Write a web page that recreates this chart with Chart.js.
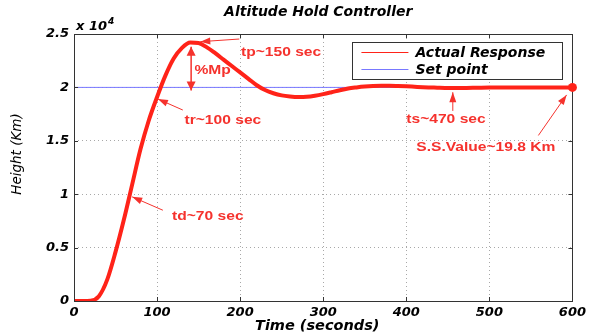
<!DOCTYPE html>
<html>
<head>
<meta charset="utf-8">
<script src="https://cdn.jsdelivr.net/npm/chart.js@4/dist/chart.umd.min.js"></script>
<style>
html,body{margin:0;padding:0;background:#fff;}
canvas{display:block;}
</style>
</head>
<body>
<canvas id="c" width="590" height="335"></canvas>
<script>
// ---- data ----
const chartTitle = 'Altitude Hold Controller';
const xTitle = 'Time (seconds)';
const yTitle = 'Height (Km)';
const seriesNames = ['Actual Response', 'Set point'];
const times = [0,10,20,30,40,50,60,70,80,90,100,110,120,130,140,150,160,170,180,190,200,
  210,220,230,240,250,260,270,280,290,300,310,320,330,340,350,360,370,380,390,400,
  410,420,430,440,450,460,470,480,490,500,510,520,530,540,550,560,570,580,590,600];
const heights = [0,0,30,450,2000,4600,7600,10900,14200,16900,19100,21100,22700,23700,24200,24150,23750,23200,22600,22000,21400,
  20800,20200,19750,19450,19250,19150,19100,19120,19220,19370,19550,19740,19900,20000,20080,20130,20150,20150,20130,20100,
  20060,20020,19990,19960,19950,19940,19950,19960,19975,19985,19990,19995,20000,20000,20000,20000,20000,20000,20000,20000];
const setPointTimes = [0, 600];
const setPointValues = [20000, 20000];
const endPoint = [600, 20000];
const xTicks = [0,100,200,300,400,500,600];
const yTicks = [0,5000,10000,15000,20000,25000];
const yTickLabels = ['0','0.5','1','1.5','2','2.5'];
const yExponent = '4';
// annotations: text anchor [t, value], arrow from/to in data units, heads count
const annTexts = ['tp~150 sec','%Mp','tr~100 sec','td~70 sec','ts~470 sec','S.S.Value~19.8 Km'];
const annAnchors = [[201,23300],[145,21630],[133,16950],[118,7950],[400,17000],[412,14400]];
const annFrom = [[199,24530],[141,23800],[131,17880],[107,8500],[456,17800],[559,15500]];
const annTo = [[152,24280],[141,19700],[101,18910],[70,9750],[456,19550],[593,19300]];
const annHeads = [1,2,1,1,1,1];

const RED = 'rgb(255,35,25)';
const ANN_RED = 'rgb(245,50,45)';
const BLUE = 'rgb(120,120,255)';

function arrowHead(ctx, x1, y1, x2, y2, len, hw) {
  const a = Math.atan2(y2 - y1, x2 - x1);
  ctx.beginPath();
  ctx.moveTo(x2, y2);
  ctx.lineTo(x2 - len*Math.cos(a) + hw*Math.sin(a), y2 - len*Math.sin(a) - hw*Math.cos(a));
  ctx.lineTo(x2 - len*Math.cos(a) - hw*Math.sin(a), y2 - len*Math.sin(a) + hw*Math.cos(a));
  ctx.closePath();
  ctx.fill();
}

const decor = {
  id: 'decor',
  afterDatasetsDraw(chart) {
    const ctx = chart.ctx, xs = chart.scales.x, ys = chart.scales.y, ca = chart.chartArea;
    ctx.save();
    // frame
    ctx.strokeStyle = '#333';
    ctx.lineWidth = 1;
    ctx.strokeRect(Math.round(ca.left)+0.5, Math.round(ca.top)+0.5, Math.round(ca.right-ca.left), Math.round(ca.bottom-ca.top));
    // inner ticks
    ctx.beginPath();
    xTicks.forEach(v => {
      const px = Math.round(xs.getPixelForValue(v)) + 0.5;
      ctx.moveTo(px, ca.bottom); ctx.lineTo(px, ca.bottom - 4);
      ctx.moveTo(px, ca.top); ctx.lineTo(px, ca.top + 4);
    });
    yTicks.forEach(v => {
      const py = Math.round(ys.getPixelForValue(v)) + 0.5;
      ctx.moveTo(ca.left, py); ctx.lineTo(ca.left + 4, py);
      ctx.moveTo(ca.right, py); ctx.lineTo(ca.right - 4, py);
    });
    ctx.stroke();

    // end point marker
    ctx.fillStyle = RED;
    ctx.beginPath();
    ctx.arc(xs.getPixelForValue(endPoint[0]), ys.getPixelForValue(endPoint[1]), 4.5, 0, Math.PI*2);
    ctx.fill();

    // annotations
    ctx.strokeStyle = ANN_RED;
    ctx.fillStyle = ANN_RED;
    annTexts.forEach((t, i) => {
      const x1 = xs.getPixelForValue(annFrom[i][0]), y1 = ys.getPixelForValue(annFrom[i][1]);
      const x2 = xs.getPixelForValue(annTo[i][0]), y2 = ys.getPixelForValue(annTo[i][1]);
      ctx.lineWidth = annHeads[i] === 2 ? 1.5 : 1;
      ctx.beginPath(); ctx.moveTo(x1, y1); ctx.lineTo(x2, y2); ctx.stroke();
      if (annHeads[i] === 2) {
        arrowHead(ctx, x1, y1, x2, y2, 9, 4.5);
        arrowHead(ctx, x2, y2, x1, y1, 9, 4.5);
      } else {
        arrowHead(ctx, x1, y1, x2, y2, 10, 3.5);
      }
      const tx = xs.getPixelForValue(annAnchors[i][0]), ty = ys.getPixelForValue(annAnchors[i][1]);
      ctx.save();
      ctx.translate(tx, ty);
      ctx.scale(1.2, 1);
      ctx.font = 'bold 13px "Liberation Sans"';
      ctx.textBaseline = 'middle';
      ctx.textAlign = 'left';
      ctx.fillText(t, 0, 0);
      ctx.restore();
    });

    // legend box
    const lx = ca.right - 220, ly = ca.top + 8, lw = 210, lh = 37;
    ctx.fillStyle = '#fff';
    ctx.fillRect(lx, ly, lw, lh);
    ctx.strokeStyle = '#333';
    ctx.lineWidth = 1;
    ctx.strokeRect(Math.round(lx)+0.5, Math.round(ly)+0.5, lw, lh);
    chart.data.datasets.forEach((ds, i) => {
      const yy = ly + 10 + i*17;
      ctx.strokeStyle = ds.borderColor;
      ctx.lineWidth = 1;
      ctx.beginPath(); ctx.moveTo(lx + 9, yy + 0.5); ctx.lineTo(lx + 56, yy + 0.5); ctx.stroke();
      ctx.fillStyle = '#000';
      ctx.font = 'italic bold 14px "DejaVu Sans"';
      ctx.textBaseline = 'middle';
      ctx.textAlign = 'left';
      ctx.fillText(ds.label, lx + 63, yy + 1);
    });

    // titles
    ctx.fillStyle = '#000';
    ctx.textAlign = 'center';
    ctx.textBaseline = 'middle';
    ctx.font = 'italic bold 14px "DejaVu Sans"';
    ctx.fillText(chartTitle, (ca.left + ca.right)/2 - 5, 12);
    ctx.font = 'italic bold 14.5px "DejaVu Sans"';
    ctx.fillText(xTitle, (ca.left + ca.right)/2 - 6, 326);
    ctx.save();
    ctx.translate(17, 154);
    ctx.rotate(-Math.PI/2);
    ctx.font = 'italic 13.5px "DejaVu Sans"';
    ctx.fillText(yTitle, 0, 0);
    ctx.restore();
    // exponent label
    ctx.textAlign = 'left';
    ctx.textBaseline = 'alphabetic';
    ctx.font = 'italic bold 13px "DejaVu Sans"';
    ctx.fillText('x 10', ca.left + 2, 30);
    const w = ctx.measureText('x 10').width;
    ctx.font = 'italic bold 9px "DejaVu Sans"';
    ctx.fillText(yExponent, ca.left + 3 + w, 24);
    ctx.restore();
  }
};

const tickFont = {family: '"DejaVu Sans"', size: 13, weight: 'bold', style: 'italic'};

new Chart(document.getElementById('c'), {
  type: 'line',
  data: {
    datasets: [
      {
        label: seriesNames[0],
        data: times.map((t, i) => ({x: t, y: heights[i]})),
        borderColor: RED,
        borderWidth: 4,
        pointRadius: 0,
        cubicInterpolationMode: 'monotone',
        fill: false
      },
      {
        label: seriesNames[1],
        data: setPointTimes.map((t, i) => ({x: t, y: setPointValues[i]})),
        borderColor: BLUE,
        borderWidth: 1,
        pointRadius: 0,
        fill: false
      }
    ]
  },
  options: {
    responsive: false,
    animation: false,
    devicePixelRatio: 1,
    layout: {padding: {top: 34, right: 16, left: 0, bottom: 0}},
    plugins: {legend: {display: false}, tooltip: {enabled: false}, title: {display: false}},
    scales: {
      x: {
        type: 'linear', min: 0, max: 600,
        afterFit: s => { s.height = 34; },
        afterBuildTicks: s => { s.ticks = xTicks.map(v => ({value: v})); },
        ticks: {font: tickFont, color: '#000', padding: 4, maxRotation: 0,
          callback: v => String(v)},
        grid: {color: '#a8a8a8', lineWidth: 1, drawTicks: false},
        border: {display: false, dash: [1, 3]}
      },
      y: {
        type: 'linear', min: 0, max: 25000,
        afterFit: s => { s.width = 74; },
        afterBuildTicks: s => { s.ticks = yTicks.map(v => ({value: v})); },
        ticks: {font: tickFont, color: '#000', padding: 5,
          callback: v => yTickLabels[yTicks.indexOf(v)]},
        grid: {color: '#a8a8a8', lineWidth: 1, drawTicks: false},
        border: {display: false, dash: [1, 3]}
      }
    }
  },
  plugins: [decor]
});
</script>
</body>
</html>
